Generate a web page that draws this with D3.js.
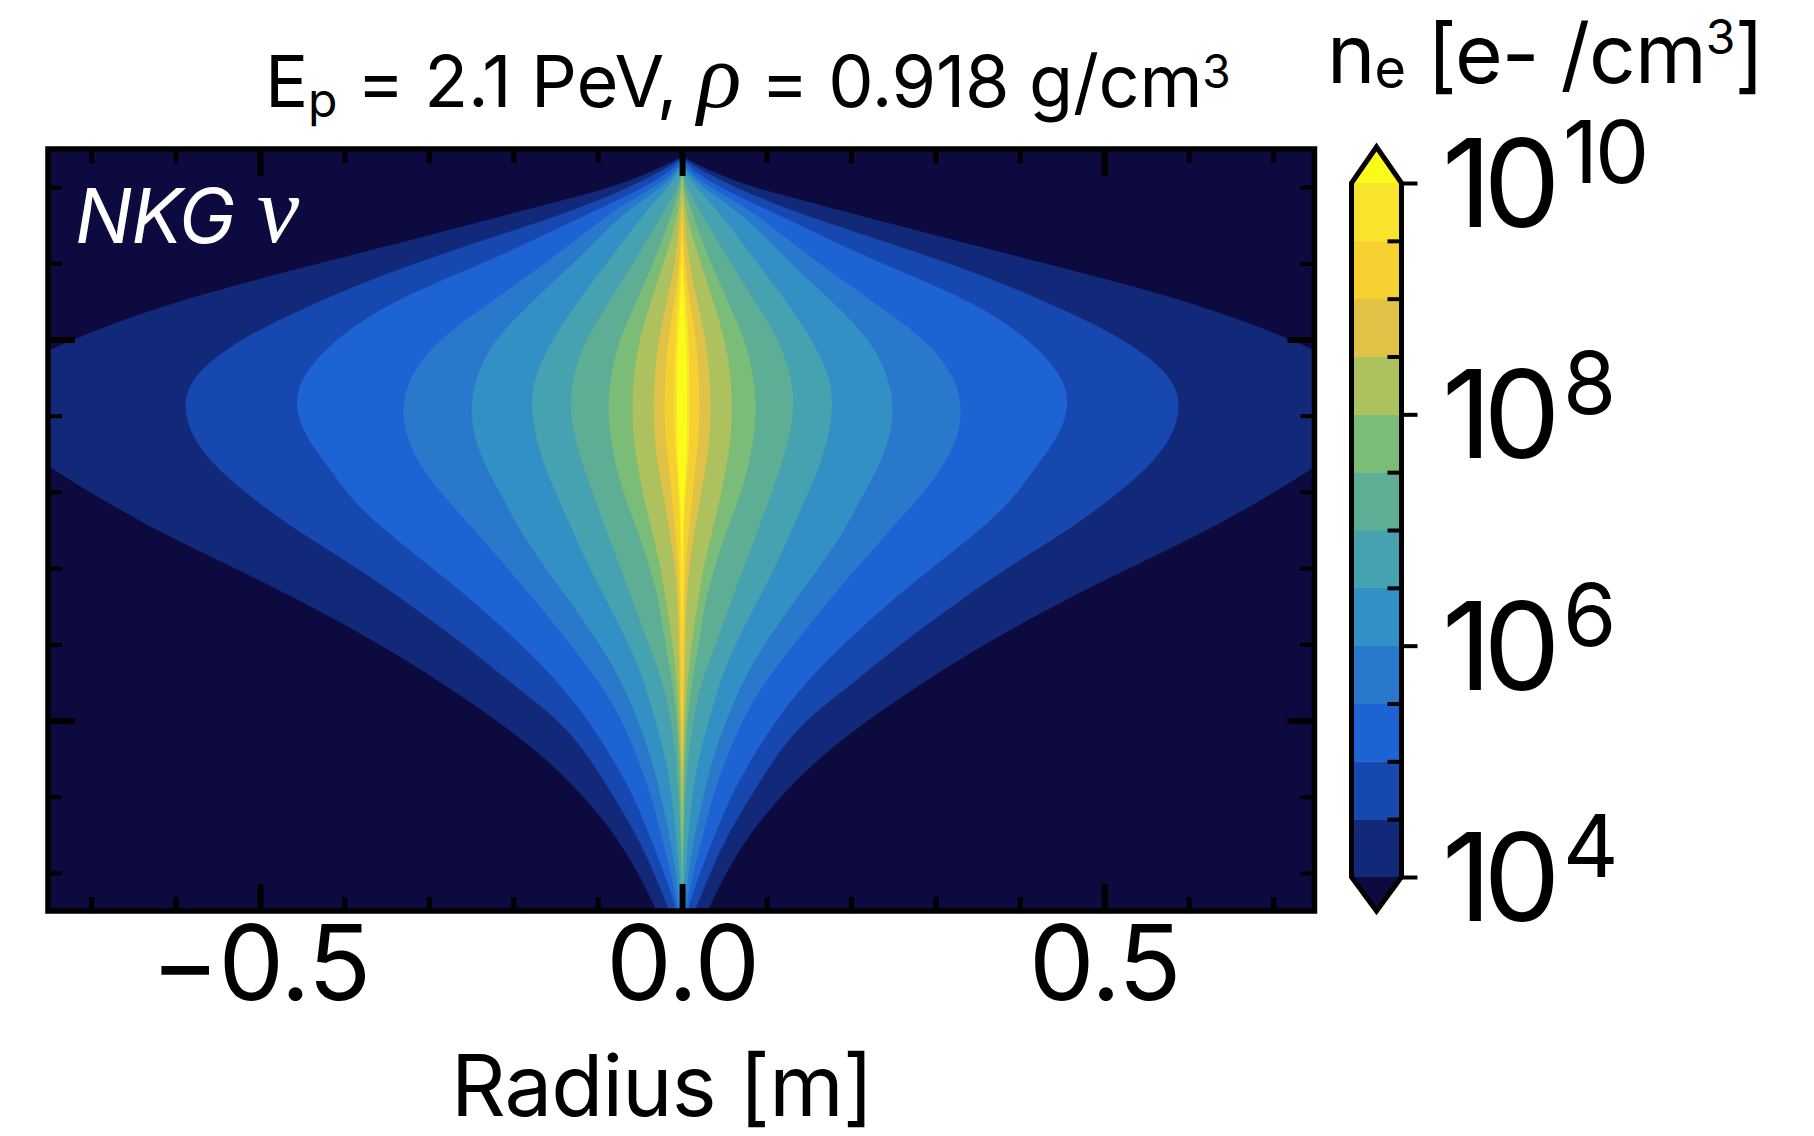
<!DOCTYPE html>
<html><head><meta charset="utf-8">
<style>html,body{margin:0;padding:0;background:#fff;overflow:hidden}svg{display:block}text{font-family:Inter,Lato,"Noto Sans",sans-serif;fill:#000}</style>
<script src="https://cdn.jsdelivr.net/npm/d3@7/dist/d3.min.js"></script></head>
<body><svg id="c" width="1814" height="1136"></svg>
<script>
// Density levels (log10 of electrons per cm3) and their fill colours.
const levels = [4,4.5,5,5.5,6,6.5,7,7.5,8,8.5,9,9.5,10];
const levelColors = ["#12297a","#1748b0","#1e63d4","#2a78cc","#3390c4","#46a1b0","#5eae95","#7abc78","#aec15f","#e0c247","#f6d030","#f8e42b","#fbfb1a"];
const underColor = "#0c0a3e";
const cbarMajor = [4,6,8,10];
const xMajor = [-0.5,0,0.5];
const xMinor = [-0.7,-0.6,-0.4,-0.3,-0.2,-0.1,0.1,0.2,0.3,0.4,0.6,0.7];
const yMajor = [2.5,7.5];
const yMinor = [0.5,1.5,3.5,4.5,5.5,6.5,8.5,9.5];
// Depth rows (unlabelled axis, tick units).
const depth = [.12,.3,.5,.75,1,1.5,2,2.5,3,3.4,3.8,4.2,4.6,5,5.5,6,6.5,7,7.5,8,8.5,9,9.5,9.9,10];
// Half-width of each contour at each depth row, in mm of radius.
const r40 = [4,36,81,169,255,429,604,725,817,835,796,747,687,624,530,439,358,285,219,161,116,79,52,34,31];
const r45 = [1,26,62,116,180,320,432,527,583,591,580,551,507,458,384,320,258,204,144,109,81,54,33,19,15];
const r50 = [0,15,44,92,140,234,346,412,453,459,445,417,392,353,296,240,191,146,111,82,57,39,21,9,7];
const r55 = [0,7,33,73,104,162,225,290,324,332,327,308,279,246,207,168,133,97,71,52,36,25,13,6,5];
const r60 = [0,5,24,57,85,128,178,223,245,251,246,232,211,193,162,129,97,71,52,36,25,15,7,4,2];
const r65 = [0,2,17,37,56,89,124,154,176,179,173,162,146,130,110,86,63,44,32,19,12,7,4,0,0];
const r70 = [0,0,5,18,31,58,86,115,130,133,127,116,103,90,73,56,40,22,13,7,4,2,1,0,0];
const r75 = [0,1,2,9,17,34,54,75,85,88,85,78,67,53,38,26,20,11,6,4,2,2,0,0,0];
const r80 = [0,0,1,4,8,22,37,51,58,59,58,52,45,36,25,18,11,6,4,2,1,0,0,0,0];
const r85 = [0,0,0,1,4,8,18,28,33,34,33,28,21,15,8,5,4,3,2,1,0,0,0,0,0];
const r90 = [0,0,0,0,1,3,9,17,20,21,20,15,12,8,4,3,2,2,1,0,0,0,0,0,0];
const r95 = [0,0,0,0,0,1,5,8,9,9,9,6,4,2,2,1,0,0,0,0,0,0,0,0,0];
const r100 = [0,0,0,0,0,0,2,5,6,6,6,5,2,1,0,0,0,0,0,0,0,0,0,0,0];
const contours = [r40,r45,r50,r55,r60,r65,r70,r75,r80,r85,r90,r95,r100];

const svg = d3.select("#c");
const x = d3.scaleLinear().domain([-0.751,0.749]).range([48,1314.5]);
const y = d3.scaleLinear().domain([0,10]).range([149,911]);
const cb = d3.scaleLinear().domain([4,10]).range([877,183]);

svg.append("defs").append("clipPath").attr("id","plot").append("rect")
  .attr("x",x.range()[0]).attr("y",y.range()[0]).attr("width",x.range()[1]-x.range()[0]).attr("height",y.range()[1]-y.range()[0]);

const plot = svg.append("g").attr("clip-path","url(#plot)");
plot.append("rect").attr("x",x.range()[0]).attr("y",y.range()[0]).attr("width",x.range()[1]-x.range()[0]).attr("height",y.range()[1]-y.range()[0]).attr("fill",underColor);
const area = d3.area().curve(d3.curveBasis)
  .y((d,i)=>y(depth[i])).x0(d=>x(-d/1000)).x1(d=>x(d/1000));
plot.selectAll("path.band").data(contours).join("path").attr("class","band")
  .attr("d",area).attr("fill",(d,i)=>levelColors[i]);

function ticks(gen, tf, len, w, labels){
  const g = svg.append("g").attr("transform",tf).call(gen.tickSize(-len));
  g.select(".domain").remove();
  g.selectAll("line").attr("stroke","#000").attr("stroke-width",w);
  if(!labels) g.selectAll("text").remove();
  return g;
}
const bt=`translate(0,${y.range()[1]})`, tt=`translate(0,${y.range()[0]})`, lt=`translate(${x.range()[0]},0)`, rt=`translate(${x.range()[1]},0)`;
ticks(d3.axisBottom(x).tickValues(xMinor),bt,14,5);
ticks(d3.axisTop(x).tickValues(xMinor),tt,14,5);
ticks(d3.axisTop(x).tickValues(xMajor),tt,27,6);
ticks(d3.axisLeft(y).tickValues(yMinor),lt,14,4);
ticks(d3.axisRight(y).tickValues(yMinor),rt,14,4);
ticks(d3.axisLeft(y).tickValues(yMajor),lt,27,6);
ticks(d3.axisRight(y).tickValues(yMajor),rt,27,6);
const xa = ticks(d3.axisBottom(x).tickValues(xMajor).tickFormat(d3.format(".1f")),bt,27,6,true);
xa.selectAll("text").attr("y",89).attr("dy",0).attr("font-size",104).attr("font-family","Inter").attr("letter-spacing",-1);

svg.append("rect").attr("x",x.range()[0]).attr("y",y.range()[0]).attr("width",x.range()[1]-x.range()[0]).attr("height",y.range()[1]-y.range()[0])
  .attr("fill","none").attr("stroke","#000").attr("stroke-width",5.5);

// text
function label(px,py,size,style,parts){
  const t = svg.append("text").attr("x",px).attr("y",py).attr("font-size",size);
  if(style) t.attr("style",style);
  let shift=0;
  parts.forEach(p=>{
    const s=t.append("tspan").text(p.t);
    const sz=p.size||size;
    s.attr("font-size",sz);
    const want=p.dy||0;
    s.attr("dy",want-shift); shift=want;
    if(p.serif) s.attr("style","font-family:'Liberation Serif';font-style:italic");
  });
  return t;
}
label(265,107,72,"letter-spacing:-0.3px",[{t:"E"},{t:"p",size:48,dy:10},{t:" = 2.1 PeV, "},{t:"ρ",serif:true,size:92},{t:" = 0.918 g/cm"},{t:"3",size:46,dy:-19}]);
label(1327,83,82,"letter-spacing:-1px",[{t:"n"},{t:"e",size:54,dy:5},{t:" [e- /cm"},{t:"3",size:48,dy:-29},{t:"]"}]);
label(75,242.5,76,"font-style:italic;letter-spacing:-1px;fill:#fff",[{t:"NKG"}]).selectAll("tspan").style("fill","#fff");
svg.append("text").attr("x",257).attr("y",242).attr("font-size",95).attr("style","font-family:'Liberation Serif';font-style:italic;fill:#fff").text("ν");
svg.append("text").attr("x",662).attr("y",1116).attr("font-size",85).attr("letter-spacing",-0.8).attr("text-anchor","middle").text("Radius [m]");

// colourbar
const bx0=1351.5,bx1=1401.5,bm=(bx0+bx1)/2;
const cbar=svg.append("g");
d3.pairs(levels).forEach((p,i)=>{
  cbar.append("rect").attr("x",bx0).attr("width",bx1-bx0).attr("y",cb(p[1])).attr("height",cb(p[0])-cb(p[1])+.5).attr("fill",levelColors[i]);
});
const outline=[[bx0,cb(4)],[bm,cb(4)+34],[bx1,cb(4)],[bx1,cb(10)],[bm,cb(10)-36],[bx0,cb(10)]];
cbar.append("path").attr("d",d3.line()([[bx0,cb(10)],[bm,cb(10)-36],[bx1,cb(10)]])+"Z").attr("fill",levelColors[12]);
cbar.append("path").attr("d",d3.line()([[bx0,cb(4)],[bm,cb(4)+34],[bx1,cb(4)]])+"Z").attr("fill",underColor);
cbar.append("path").attr("d",d3.line()(outline)+"Z").attr("fill","none").attr("stroke","#000").attr("stroke-width",5).attr("stroke-linejoin","miter");
const inner=levels.filter(l=>!cbarMajor.includes(l));
const ca=svg.append("g").attr("transform",`translate(${bx1},0)`).call(d3.axisRight(cb).tickValues(inner).tickSize(-14).tickFormat(""));
ca.select(".domain").remove(); ca.selectAll("line").attr("stroke","#000").attr("stroke-width",4);
const cm=svg.append("g").attr("transform",`translate(${bx1},0)`).call(d3.axisRight(cb).tickValues(cbarMajor).tickSize(16).tickFormat(""));
cm.select(".domain").remove(); cm.selectAll("line").attr("stroke","#000").attr("stroke-width",4);
cbarMajor.forEach(v=>{
  svg.append("text").attr("x",1442).attr("y",cb(v)+44).attr("font-size",122).attr("letter-spacing",-8).text("10");
  svg.append("text").attr("x",1563).attr("y",cb(v)).attr("font-size",86).attr("letter-spacing",-3).text(v);
});
</script></body></html>
